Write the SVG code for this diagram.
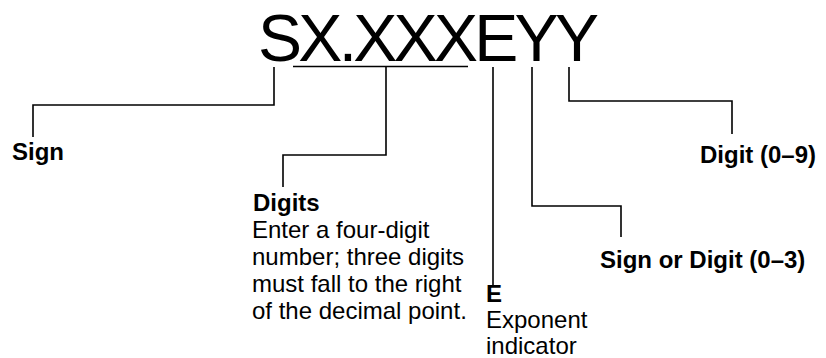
<svg xmlns="http://www.w3.org/2000/svg" width="826" height="358" viewBox="0 0 826 358">
<style>
.big{font-family:"Liberation Sans",Arial,sans-serif;font-size:66px;fill:#000;letter-spacing:-3.7px}
.lbl{font-family:"Liberation Sans",Arial,sans-serif;font-size:24px;font-weight:bold;fill:#000}
.txt{font-family:"Liberation Sans",Arial,sans-serif;font-size:24px;fill:#000}
.ln{fill:none;stroke:#000;stroke-width:1.6}
</style>
<rect width="826" height="358" fill="#fff"/>
<g id="format">
<text class="big" x="258" y="61">SX.XXXEYY</text>
</g>
<g id="connectors">
<path class="ln" d="M293 66.5H468"/>
<path class="ln" d="M274 67V105H33V137"/>
<path class="ln" d="M386 67V155H283V187"/>
<path class="ln" d="M493 67V285"/>
<path class="ln" d="M532 67V206H621V237"/>
<path class="ln" d="M569 67V101H732V134"/>
</g>
<g id="sign">
<text class="lbl" x="12" y="160">Sign</text>
</g>
<g id="digits">
<text class="lbl" x="253" y="211">Digits</text>
<text class="txt" x="252" y="238">Enter a four-digit</text>
<text class="txt" x="252" y="265">number; three digits</text>
<text class="txt" x="252" y="292">must fall to the right</text>
<text class="txt" x="252" y="319">of the decimal point.</text>
</g>
<g id="exponent">
<text class="lbl" x="486" y="302">E</text>
<text class="txt" x="486" y="328">Exponent</text>
<text class="txt" x="486" y="354">indicator</text>
</g>
<g id="sign-or-digit">
<text class="lbl" x="600" y="268">Sign or Digit (0–3)</text>
</g>
<g id="digit">
<text class="lbl" x="700" y="163">Digit (0–9)</text>
</g>
</svg>
